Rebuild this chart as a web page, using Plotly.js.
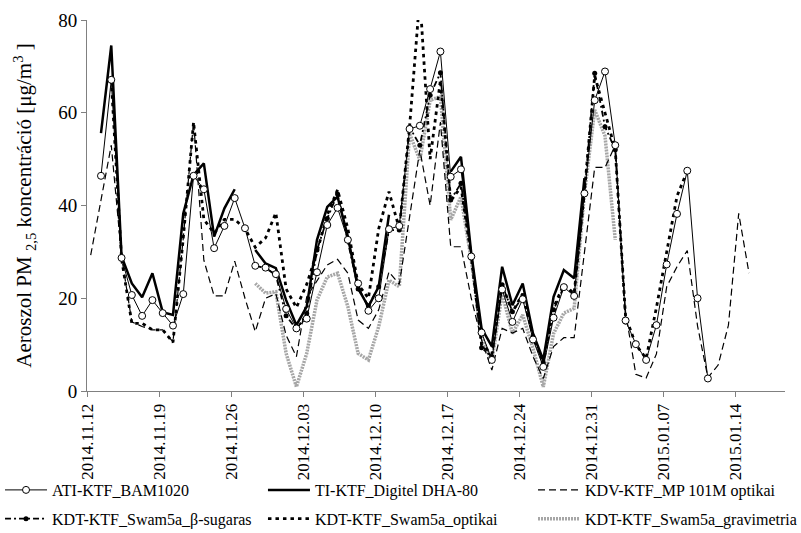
<!DOCTYPE html>
<html>
<head>
<meta charset="utf-8">
<script src="https://cdn.plot.ly/plotly-3.0.1.min.js"></script>
<style>html,body{margin:0;padding:0;background:#fff;}#chart{width:801px;height:533px;}</style>
</head>
<body>
<div id="chart"></div>
<script>
// Daily dates (categories)
const dates = [
 '2014-11-12','2014-11-13','2014-11-14','2014-11-15','2014-11-16','2014-11-17','2014-11-18','2014-11-19','2014-11-20','2014-11-21',
 '2014-11-22','2014-11-23','2014-11-24','2014-11-25','2014-11-26','2014-11-27','2014-11-28','2014-11-29','2014-11-30','2014-12-01',
 '2014-12-02','2014-12-03','2014-12-04','2014-12-05','2014-12-06','2014-12-07','2014-12-08','2014-12-09','2014-12-10','2014-12-11',
 '2014-12-12','2014-12-13','2014-12-14','2014-12-15','2014-12-16','2014-12-17','2014-12-18','2014-12-19','2014-12-20','2014-12-21',
 '2014-12-22','2014-12-23','2014-12-24','2014-12-25','2014-12-26','2014-12-27','2014-12-28','2014-12-29','2014-12-30','2014-12-31',
 '2015-01-01','2015-01-02','2015-01-03','2015-01-04','2015-01-05','2015-01-06','2015-01-07','2015-01-08','2015-01-09','2015-01-10',
 '2015-01-11','2015-01-12','2015-01-13','2015-01-14','2015-01-15'
];

const tickLabels = ['2014.11.12','2014.11.19','2014.11.26','2014.12.03','2014.12.10','2014.12.17','2014.12.24','2014.12.31','2015.01.07','2015.01.14'];

const atiBam = [null,
 46.4,67.1,28.7,20.7,16.2,19.6,16.8,14.1,20.9,46.4,
 43.5,30.8,35.6,41.6,35.1,27.0,26.6,25.2,17.7,13.5,
 15.6,25.6,35.8,39.5,32.6,23.2,17.3,20.0,34.9,35.6,
 56.5,57.2,65.1,73.2,46.2,47.8,29.0,12.6,6.7,21.9,
 14.9,19.8,11.1,5.2,15.8,22.4,20.5,42.6,62.7,68.9,
 53.0,15.2,10.1,6.7,14.2,27.3,38.2,47.5,20.0,2.7,
 null,null,null,null];

const tiDigitel = [null,
 55.6,74.5,29.0,23.2,20.2,25.4,17.0,16.4,38.3,46.6,
 49.1,33.3,39.4,43.5,null,30.4,27.5,26.5,19.6,14.2,
 18.2,32.6,39.7,41.9,33.3,22.1,18.2,22.5,38.0,null,
 null,null,null,null,47.3,50.5,29.7,13.5,9.6,26.8,
 18.5,23.2,12.4,6.7,20.3,26.1,24.3,45.9,null,null,
 null,null,null,null,null,null,null,null,null,null,
 null,null,null,null];

const kdvMp = [29.3,
 41.0,53.0,29.0,14.9,13.9,13.2,13.2,10.6,33.0,58.1,
 28.2,20.5,20.5,28.0,20.0,12.8,20.0,21.0,12.0,7.4,
 20.3,23.9,27.2,28.4,25.4,15.3,13.5,17.5,25.7,23.0,
 38.0,52.0,40.0,58.0,31.1,31.1,20.0,11.0,4.5,13.5,
 12.5,13.5,7.4,2.7,9.6,11.5,11.5,30.0,48.2,48.2,
 53.0,17.0,3.6,2.8,8.0,22.5,26.8,30.3,14.0,2.9,
 5.6,14.2,38.3,25.4];

const kdtBeta = [null,
 null,null,null,null,null,null,null,null,null,null,
 null,null,null,null,null,27.0,26.5,25.0,16.2,13.3,
 16.7,30.4,37.2,42.5,32.6,22.0,18.4,22.5,34.7,34.7,
 56.9,53.0,63.8,68.6,41.2,44.8,29.0,9.3,7.4,22.9,
 17.1,20.3,11.7,6.1,17.5,22.5,20.9,42.6,68.5,57.0,
 52.0,14.9,null,null,null,null,null,null,null,null,
 null,null,null,null];

const kdtOptikai = [null,
 null,67.0,28.5,14.6,14.6,13.2,13.2,10.5,33.0,58.0,
 37.0,34.0,37.0,37.0,35.0,31.0,33.0,38.4,22.0,18.0,
 23.0,30.0,38.0,43.4,35.0,23.0,20.0,35.0,43.0,35.0,
 57.0,85.0,50.0,67.0,41.0,44.0,29.0,10.0,8.0,23.0,
 17.0,21.0,12.0,6.0,18.0,23.0,21.0,43.0,68.0,60.0,
 52.0,16.0,10.0,7.0,18.0,30.0,42.0,47.5,null,null,
 null,null,null,null];

const kdtGrav = [null,
 null,null,null,null,null,null,null,null,null,null,
 null,null,null,null,null,23.2,21.1,21.4,8.1,0.9,
 8.1,19.6,24.6,25.4,18.2,8.1,6.7,13.9,23.9,22.5,
 55.5,49.8,62.7,63.5,36.9,41.9,28.2,11.7,6.3,21.1,
 12.4,16.4,9.2,0.9,12.4,16.8,17.8,42.6,60.6,55.0,
 32.6,null,null,null,null,null,null,null,null,null,
 null,null,null,null];

const names = ['ATI-KTF_BAM1020','TI-KTF_Digitel DHA-80','KDV-KTF_MP 101M optikai',
  'KDT-KTF_Swam5a_β-sugaras','KDT-KTF_Swam5a_optikai','KDT-KTF_Swam5a_gravimetria'];

// ---- layout helpers ----
const DAY = 86400000;
const TICK_SHIFT = 0.36 * DAY;
function labelToMs(l){ const p = l.split('.'); return Date.UTC(+p[0], +p[1]-1, +p[2]); }
const tickVals = tickLabels.map(l => labelToMs(l) - TICK_SHIFT);
const xStart = tickVals[0];
const xEnd = xStart + 67.86 * DAY;

const FONT = '"Liberation Serif", "Times New Roman", serif';

const traces = [
  {name: names[5], y: kdtGrav, legend: 'legend3', legendrank: 2,
   line: {color: '#a6a6a6', width: 3.5, dash: '2px,1px'}, mode: 'lines'},
  {name: names[2], y: kdvMp, legend: 'legend3', legendrank: 1,
   line: {color: '#000', width: 1.2, dash: '7px,4px'}, mode: 'lines'},
  {name: names[4], y: kdtOptikai, legend: 'legend2', legendrank: 2,
   line: {color: '#000', width: 2.8, dash: '3.5px,4px'}, mode: 'lines'},
  {name: names[3], y: kdtBeta, legend: 'legend', legendrank: 2,
   line: {color: '#000', width: 1.8, dash: '6px,3px,2px,3px'}, mode: 'lines+markers',
   marker: {symbol: 'circle', size: 5, color: '#000'}},
  {name: names[1], y: tiDigitel, legend: 'legend2', legendrank: 1,
   line: {color: '#000', width: 2.5}, mode: 'lines'},
  {name: names[0], y: atiBam, legend: 'legend', legendrank: 1,
   line: {color: '#000', width: 1}, mode: 'lines+markers',
   marker: {symbol: 'circle', size: 7, color: '#fff', line: {color: '#000', width: 1}}}
].map((t, k) => Object.assign({type: 'scatter', x: dates, connectgaps: false, cliponaxis: true,
   legendgroup: 'g' + k}, t));

const legendBase = {
  orientation: 'v', yanchor: 'top', xanchor: 'left', y: -0.221,
  bgcolor: 'rgba(0,0,0,0)', borderwidth: 0, itemwidth: 42,
  font: {family: FONT, size: 16, color: '#000'},
  traceorder: 'grouped', tracegroupgap: 5
};

const layout = {
  width: 801, height: 533,
  margin: {l: 87, r: 16, t: 20, b: 142, autoexpand: false},
  paper_bgcolor: '#fff', plot_bgcolor: '#fff',
  font: {family: FONT, size: 16, color: '#000'},
  showlegend: true,
  legend: Object.assign({}, legendBase, {x: -0.1246}),
  legend2: Object.assign({}, legendBase, {x: 0.2521}),
  legend3: Object.assign({}, legendBase, {x: 0.639}),
  xaxis: {
    type: 'date', range: [xStart, xEnd], autorange: false,
    tickmode: 'array', tickvals: tickVals, ticktext: tickLabels,
    tickangle: -90, ticks: 'outside', ticklen: 5, tickcolor: '#808080',
    showline: true, linecolor: '#808080', linewidth: 1,
    showgrid: false, zeroline: false, automargin: false,
    tickfont: {family: FONT, size: 17, color: '#000'}
  },
  yaxis: {
    range: [0, 80], autorange: false, dtick: 20, tick0: 0,
    ticks: 'outside', ticklen: 5, tickcolor: '#808080',
    showline: true, linecolor: '#808080', linewidth: 1,
    showgrid: false, zeroline: false, automargin: false,
    tickfont: {family: FONT, size: 19, color: '#000'},
    title: {text: 'Aeroszol PM <sub>2,5</sub> koncentráció [μg/m<sup>3</sup> ]',
            font: {family: FONT, size: 21, color: '#000'}, standoff: 20}
  }
};

Plotly.newPlot('chart', traces, layout, {displayModeBar: false, staticPlot: true});
</script>
</body>
</html>
